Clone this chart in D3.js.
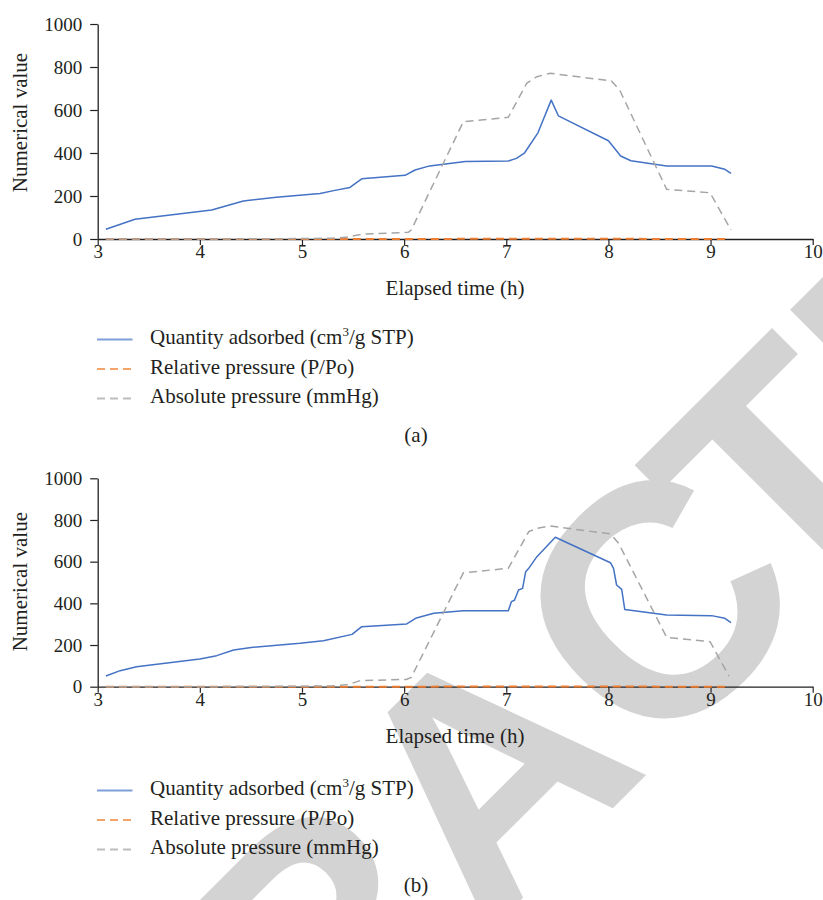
<!DOCTYPE html>
<html>
<head>
<meta charset="utf-8">
<script src="https://cdn.jsdelivr.net/npm/d3@7"></script>
<style>
  html, body { margin: 0; padding: 0; background: #fff; }
  svg { display: block; }
</style>
</head>
<body>
<div id="chart"></div>
<script>
// ---- Panel (a) ----
const qaTimeA = [3.08, 3.365, 4.116, 4.426, 4.75, 5.177, 5.31, 5.47, 5.51, 5.585, 6.009, 6.107, 6.25, 6.6, 7.02, 7.10, 7.18, 7.31, 7.44, 7.51, 8.0, 8.12, 8.22, 8.57, 9.01, 9.14, 9.2];
const qaValA  = [45, 92, 135, 177, 194, 212, 225, 240, 254, 280, 296, 321, 340, 360, 363, 375, 401, 494, 646, 573, 457, 386, 364, 340, 340, 324, 305];

const rpTimeA = [3.08, 3.5, 4.0, 4.5, 5.0, 5.5, 6.0, 6.5, 7.0, 7.5, 8.0, 8.5, 9.0, 9.16];
const rpValA  = [0.0, 0.0, 0.0, 0.0, 0.0, 0.01, 0.04, 0.62, 0.73, 0.99, 0.95, 0.35, 0.27, 0.06];

const apTimeA = [3.08, 3.5, 4.0, 4.5, 5.0, 5.3, 5.45, 5.585, 6.04, 6.07, 6.58, 7.02, 7.2, 7.3, 7.43, 8.03, 8.11, 8.57, 8.995, 9.2];
const apValA  = [0, 0, 0, 1, 2, 4, 9, 22, 31, 42, 546, 566, 724, 755, 771, 735, 693, 231, 215, 42];

// ---- Panel (b) ----
const qaTimeB = [3.08, 3.22, 3.38, 4.0, 4.165, 4.33, 4.52, 4.98, 5.21, 5.49, 5.585, 6.025, 6.12, 6.29, 6.58, 7.02, 7.05, 7.08, 7.12, 7.16, 7.19, 7.22, 7.30, 7.48, 8.02, 8.05, 8.08, 8.13, 8.16, 8.57, 9.01, 9.14, 9.2];
const qaValB  = [51, 77, 96, 133, 149, 176, 189, 208, 221, 251, 288, 301, 330, 352, 365, 365, 408, 415, 464, 472, 552, 568, 624, 717, 595, 568, 488, 467, 371, 344, 341, 328, 307];

const rpTimeB = [3.08, 3.5, 4.0, 4.5, 5.0, 5.5, 6.0, 6.5, 7.0, 7.5, 8.0, 8.5, 9.0, 9.16];
const rpValB  = [0.0, 0.0, 0.0, 0.0, 0.0, 0.01, 0.05, 0.63, 0.74, 0.99, 0.95, 0.36, 0.28, 0.07];

const apTimeB = [3.08, 3.5, 4.0, 4.5, 5.0, 5.3, 5.45, 5.57, 6.02, 6.07, 6.58, 7.02, 7.22, 7.3, 7.43, 8.02, 8.10, 8.57, 8.995, 9.18];
const apValB  = [0, 0, 0, 1, 2, 4, 10, 29, 35, 45, 547, 568, 744, 760, 771, 733, 688, 237, 216, 51];

// ---- Axes and labels ----
const xTicks = [3, 4, 5, 6, 7, 8, 9, 10];
const yTicks = [0, 200, 400, 600, 800, 1000];
const xTitle = "Elapsed time (h)";
const yTitle = "Numerical value";
const seriesNames = ["Quantity adsorbed (cm", "Relative pressure (P/Po)", "Absolute pressure (mmHg)"];
const panelLabels = ["(a)", "(b)"];
const stamp = "RETRACTED";

const W = 823, H = 900;
const serif = "'Liberation Serif', 'Times New Roman', serif";
const ink = "#231f20";
const colors = { qa: "#4472C4", rp: "#ED7D31", ap: "#A5A5A5" };

const svg = d3.select("#chart").append("svg")
  .attr("width", W).attr("height", H)
  .attr("viewBox", `0 0 ${W} ${H}`);

svg.append("rect").attr("width", W).attr("height", H).attr("fill", "#fff");

// Diagonal stamp lettering, drawn first so the charts sit on top of it
svg.append("text")
  .attr("transform", "translate(-151.5,1572.5) rotate(-45)")
  .attr("font-family", "'Liberation Sans', Arial, sans-serif")
  .attr("font-weight", "bold")
  .attr("font-size", 330)
  .attr("fill", "#d3d3d3")
  .attr("dx", "0 0 0 0 0 0 -40 0 0")
  .text(stamp);

function zip(t, v) { return t.map((d, i) => ({ t: d, v: v[i] })); }

function panel(cfg) {
  const x = d3.scaleLinear().domain([3, 10]).range([97.7, 812.7]);
  const y = d3.scaleLinear().domain([0, 1000]).range([cfg.y0, cfg.y1]);
  const g = svg.append("g");

  // x axis
  const xa = g.append("g").attr("transform", `translate(0,${cfg.y0})`)
    .call(d3.axisBottom(x).tickValues(xTicks).tickSize(6).tickSizeOuter(0).tickFormat(d3.format("d")));
  xa.select(".domain").attr("stroke", ink).attr("stroke-width", 1.3);
  xa.selectAll(".tick line").attr("stroke", ink).attr("stroke-width", 1.2);
  xa.selectAll(".tick text").attr("y", 19.3).attr("dy", 0)
    .attr("font-family", serif).attr("font-size", 19).attr("fill", ink);

  // y axis
  const ya = g.append("g").attr("transform", `translate(97.7,0)`)
    .call(d3.axisLeft(y).tickValues(yTicks).tickSize(7.5).tickSizeOuter(0).tickPadding(8).tickFormat(d3.format("d")));
  ya.select(".domain").attr("stroke", ink).attr("stroke-width", 1.3);
  ya.selectAll(".tick line").attr("stroke", ink).attr("stroke-width", 1.2);
  ya.selectAll(".tick text").attr("dy", "0.33em")
    .attr("font-family", serif).attr("font-size", 19).attr("fill", ink);

  // titles
  g.append("text").attr("x", 455).attr("y", cfg.y0 + 56)
    .attr("text-anchor", "middle").attr("font-family", serif).attr("font-size", 21).attr("fill", ink)
    .text(xTitle);
  g.append("text").attr("transform", `translate(26.7,${cfg.yTitleC}) rotate(-90)`)
    .attr("text-anchor", "middle").attr("font-family", serif).attr("font-size", 21).attr("fill", ink)
    .text(yTitle);

  const line = d3.line().x(d => x(d.t)).y(d => y(d.v));

  g.append("path").datum(zip(cfg.qaT, cfg.qaV)).attr("d", line)
    .attr("fill", "none").attr("stroke", colors.qa).attr("stroke-width", 1.5)
    .attr("stroke-linejoin", "round");
  g.append("path").datum(zip(cfg.rpT, cfg.rpV)).attr("d", line)
    .attr("fill", "none").attr("stroke", colors.rp).attr("stroke-width", 2)
    .attr("stroke-dasharray", "8,5");
  g.append("path").datum(zip(cfg.apT, cfg.apV)).attr("d", line)
    .attr("fill", "none").attr("stroke", colors.ap).attr("stroke-width", 1.5)
    .attr("stroke-dasharray", "8,5");

  // legend
  const styles = [
    { c: "#7f9fd9", dash: null },
    { c: "#f4a46a", dash: "8,5" },
    { c: "#bdbdbd", dash: "8,5" }
  ];
  styles.forEach((s, i) => {
    const ly = cfg.legY + i * 29.5;
    const ln = g.append("line").attr("x1", 97).attr("x2", 132.5).attr("y1", ly).attr("y2", ly)
      .attr("stroke", s.c).attr("stroke-width", 1.8);
    if (s.dash) ln.attr("stroke-dasharray", s.dash);
    const t = g.append("text").attr("x", 150).attr("y", ly + 4.8)
      .attr("font-family", serif).attr("font-size", 21).attr("fill", ink);
    t.append("tspan").text(seriesNames[i]);
    if (i === 0) {
      t.append("tspan").attr("font-size", 13).attr("dy", -8).text("3");
      t.append("tspan").attr("dy", 8).text("/g STP)");
    }
  });

  g.append("text").attr("x", 416).attr("y", cfg.labY)
    .attr("text-anchor", "middle").attr("font-family", serif).attr("font-size", 21).attr("fill", ink)
    .text(cfg.label);
}

panel({ y0: 239, y1: 24, yTitleC: 122.5, legY: 339.5, labY: 442,
  qaT: qaTimeA, qaV: qaValA, rpT: rpTimeA, rpV: rpValA, apT: apTimeA, apV: apValA, label: panelLabels[0] });
panel({ y0: 686.7, y1: 478.3, yTitleC: 581.7, legY: 790.5, labY: 892,
  qaT: qaTimeB, qaV: qaValB, rpT: rpTimeB, rpV: rpValB, apT: apTimeB, apV: apValB, label: panelLabels[1] });
</script>
</body>
</html>
